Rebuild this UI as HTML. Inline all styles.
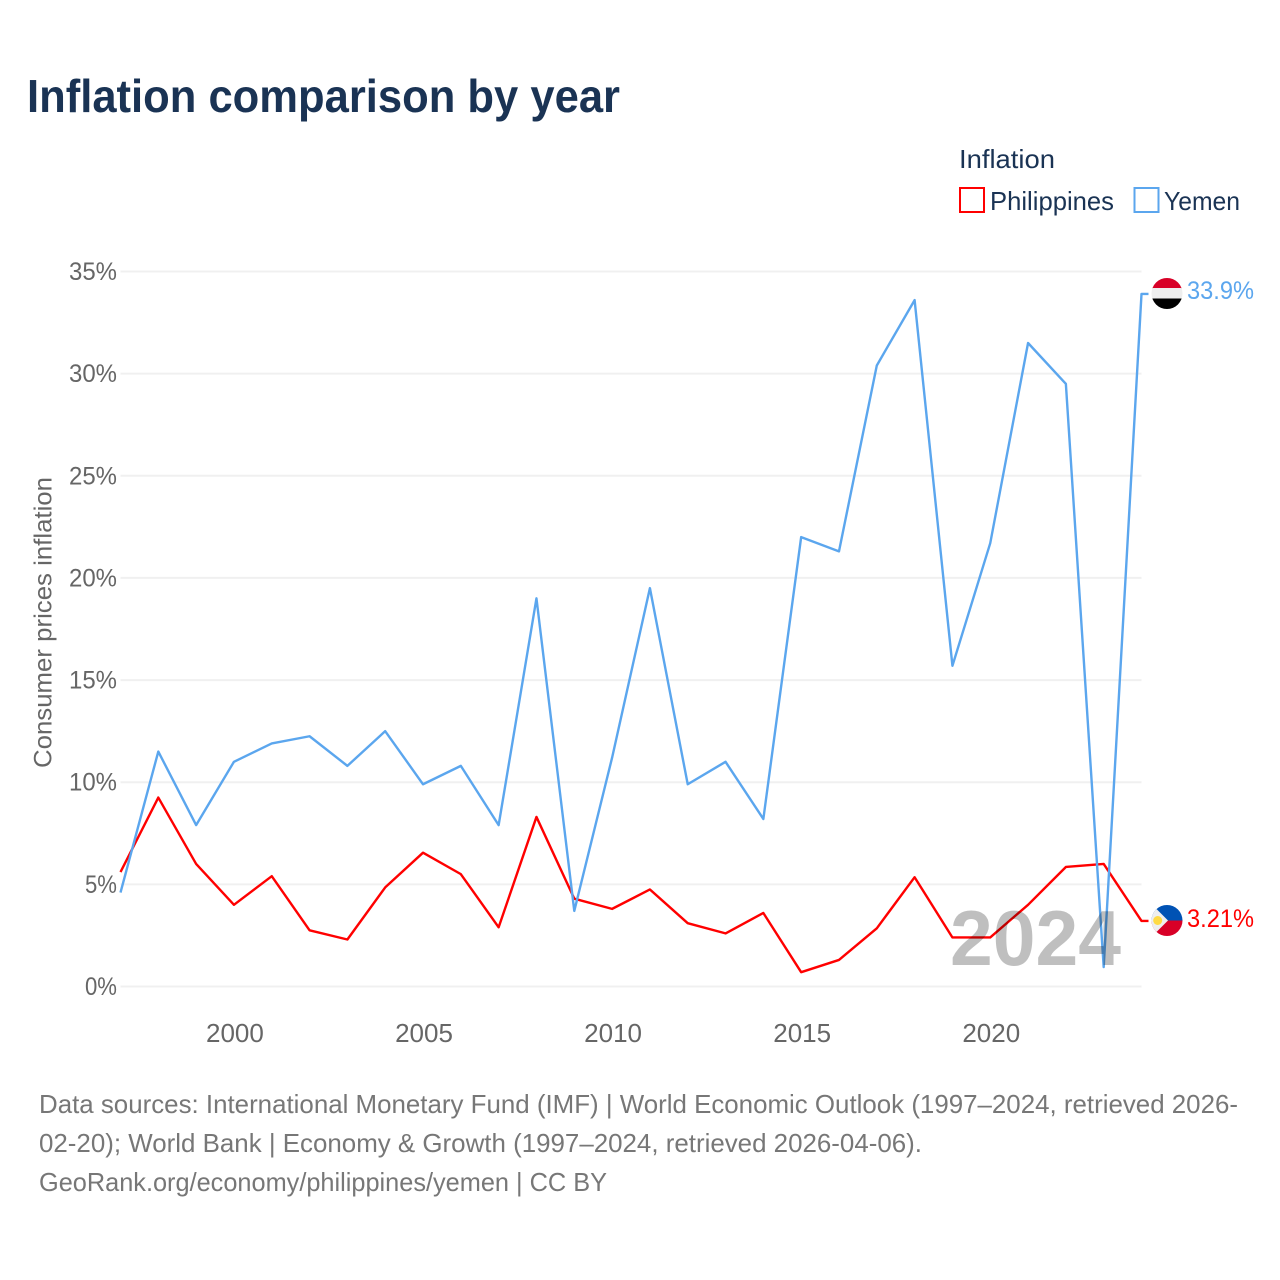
<!DOCTYPE html>
<html lang="en">
<head>
<meta charset="utf-8">
<title>Inflation comparison by year</title>
<style>
html,body{margin:0;padding:0;background:#fff;}
svg{display:block;font-family:"Liberation Sans",sans-serif;}
</style>
</head>
<body>
<svg id="chart" xmlns="http://www.w3.org/2000/svg" width="1280" height="1280" viewBox="0 0 1280 1280">
  <rect width="1280" height="1280" fill="#fff"/>
  <text x="27" y="112" font-size="46" font-weight="700" fill="#1a3354" textLength="593" lengthAdjust="spacingAndGlyphs">Inflation comparison by year</text>

  <text x="959" y="168" font-size="26" fill="#1a3354" textLength="96" lengthAdjust="spacingAndGlyphs">Inflation</text>
  <rect x="960" y="188" width="24" height="24" fill="#fff" stroke="#ff0000" stroke-width="2"/>
  <text x="990" y="210" font-size="26" fill="#1a3354" textLength="124" lengthAdjust="spacingAndGlyphs">Philippines</text>
  <rect x="1134.500" y="188" width="24" height="24" fill="#fff" stroke="#5ba6ee" stroke-width="2"/>
  <text x="1164" y="210" font-size="26" fill="#1a3354" textLength="76" lengthAdjust="spacingAndGlyphs">Yemen</text>

  <text transform="translate(51.500,622.500) rotate(-90)" text-anchor="middle" font-size="25" fill="#666" textLength="291" lengthAdjust="spacingAndGlyphs">Consumer prices inflation</text>

  <g id="grid"></g>
  <g id="yticks"></g>
  <g id="xticks"></g>
  <g id="series"></g>

  <text x="950" y="965" font-size="78" font-weight="700" fill="#000" fill-opacity="0.25" textLength="171" lengthAdjust="spacingAndGlyphs">2024</text>

  <defs>
    <clipPath id="flag-clip-ye"><circle cx="1167" cy="293.500" r="15.500"/></clipPath>
    <clipPath id="flag-clip-ph"><circle cx="1167" cy="920.500" r="15.500"/></clipPath>
  </defs>
  <g clip-path="url(#flag-clip-ye)">
    <rect x="1151" y="278" width="32" height="11" fill="#d80027"/>
    <rect x="1151" y="288" width="32" height="11" fill="#eeeeee"/>
    <rect x="1151" y="298.500" width="32" height="11" fill="#000"/>
  </g>
  <g clip-path="url(#flag-clip-ph)">
    <rect x="1151" y="905" width="32" height="16" fill="#0052b4"/>
    <rect x="1151" y="920.500" width="32" height="16" fill="#d80027"/>
    <polygon points="1151,905 1152.500,905 1168,920.500 1152.500,936 1151,936" fill="#eeeeee"/>
    <circle cx="1157.700" cy="920.500" r="4.500" fill="#ffda44"/>
  </g>
  <text x="1187" y="299" font-size="25" fill="#5ba6ee" textLength="67" lengthAdjust="spacingAndGlyphs">33.9%</text>
  <text x="1187" y="927" font-size="25" fill="#ff0000" textLength="67" lengthAdjust="spacingAndGlyphs">3.21%</text>

  <g font-size="26" fill="#777">
    <text x="39" y="1113" textLength="1199" lengthAdjust="spacingAndGlyphs">Data sources: International Monetary Fund (IMF) | World Economic Outlook (1997–2024, retrieved 2026-</text>
    <text x="39" y="1152" textLength="883" lengthAdjust="spacingAndGlyphs">02-20); World Bank | Economy &amp; Growth (1997–2024, retrieved 2026-04-06).</text>
    <text x="39" y="1191" textLength="568" lengthAdjust="spacingAndGlyphs">GeoRank.org/economy/philippines/yemen | CC BY</text>
  </g>
</svg>
<script>
const years = [1997,1998,1999,2000,2001,2002,2003,2004,2005,2006,2007,2008,2009,2010,2011,2012,2013,2014,2015,2016,2017,2018,2019,2020,2021,2022,2023,2024];
const philippines = [5.6,9.25,6.0,4.0,5.4,2.75,2.3,4.85,6.55,5.5,2.9,8.3,4.3,3.8,4.75,3.1,2.6,3.6,0.7,1.3,2.85,5.35,2.4,2.4,4.0,5.85,6.0,3.21];
const yemen = [4.6,11.5,7.9,11.0,11.9,12.25,10.8,12.5,9.9,10.8,7.9,19.0,3.7,11.2,19.5,9.9,11.0,8.2,22.0,21.3,30.4,33.6,15.7,21.7,31.5,29.5,0.95,33.9];
const yTicks = [0,5,10,15,20,25,30,35];
const xTicks = [2000,2005,2010,2015,2020];

const NS = 'http://www.w3.org/2000/svg';
const plot = {left: 120.5, right: 1141.5, top: 271.5, bottom: 986.5};
const xDomain = [1997, 2024];
const yDomain = [0, 35];
function xScale(v){
  return plot.left + (v - xDomain[0]) / (xDomain[1] - xDomain[0]) * (plot.right - plot.left);
}
function yScale(v){
  return plot.bottom - (v - yDomain[0]) / (yDomain[1] - yDomain[0]) * (plot.bottom - plot.top);
}
function make(tag, parent, attrs, text){
  const el = document.createElementNS(NS, tag);
  for (const k in attrs) el.setAttribute(k, attrs[k]);
  if (text !== undefined) el.textContent = text;
  parent.appendChild(el);
  return el;
}
const gridG = document.getElementById('grid');
const yG = document.getElementById('yticks');
const xG = document.getElementById('xticks');
const seriesG = document.getElementById('series');

yTicks.forEach(function(t){
  const line = make('line', gridG, {x1: plot.left, x2: plot.right, y1: yScale(t), y2: yScale(t), stroke: '#f0f0f0', 'stroke-width': 2});
  
  
  const label = make('text', yG, {x: 117, y: yScale(t) + 8.5, 'text-anchor': 'end', 'font-size': 25, fill: '#666', textLength: (t + '%').length * 16, lengthAdjust: 'spacingAndGlyphs'}, t + '%');
  
  
});
xTicks.forEach(function(t){
  const label = make('text', xG, {x: xScale(t) + 1, y: 1042, 'text-anchor': 'middle', 'font-size': 26, fill: '#666'}, String(t));
  
  
});
function linePath(values){
  return values.map(function(v, i){
    return (i ? 'L' : 'M') + xScale(years[i]).toFixed(2) + ' ' + yScale(v).toFixed(2);
  }).join(' ');
}
function drawSeries(values, color){
  const last = values[values.length - 1];
  const d = linePath(values) + ' L' + (plot.right + 7) + ' ' + yScale(last).toFixed(2);
  return make('path', seriesG, {d: d, fill: 'none', stroke: color, 'stroke-width': 2.4, 'stroke-linejoin': 'round'});
}
const philippinesLine = drawSeries(philippines, '#ff0000');


const yemenLine = drawSeries(yemen, '#5ba6ee');


</script>
</body>
</html>
